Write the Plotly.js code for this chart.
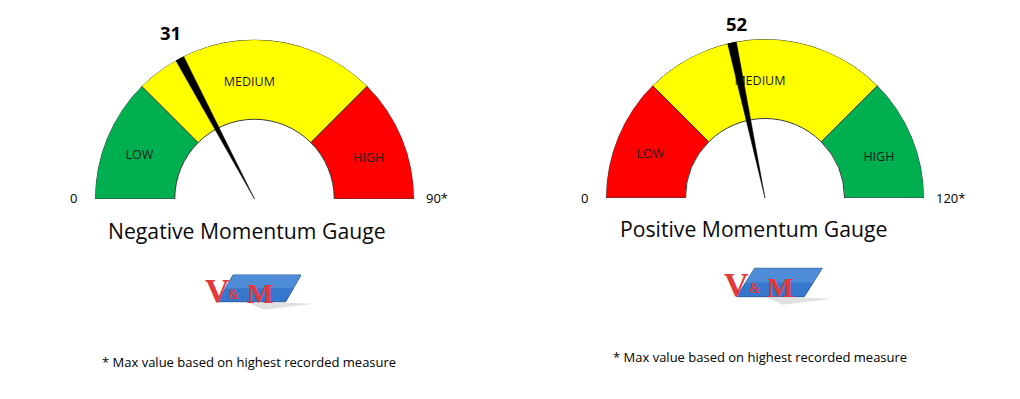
<!DOCTYPE html>
<html><head><meta charset="utf-8">
<script src="https://cdn.plot.ly/plotly-3.0.1.min.js"></script>
<style>html,body{margin:0;padding:0;background:#fff;} #chart{width:1020px;height:399px;}</style>
</head><body><div id="chart"></div>
<script>
// ---------- data ----------
const gaugeTitles = ["Negative Momentum Gauge", "Positive Momentum Gauge"];
const gaugeMax = [90, 120];
const gaugeValues = [31, 52];
const bandLabels = ["LOW", "MEDIUM", "HIGH"];
const negBandEdges = [0, 22.5, 67.5, 90];
const posBandEdges = [0, 30, 90, 120];
const negBandColors = ["#00B050", "#FFFF00", "#FF0000"];
const posBandColors = ["#FF0000", "#FFFF00", "#00B050"];
const minLabels = ["0", "0"];
const maxLabels = ["90*", "120*"];
const footnoteText = "* Max value based on highest recorded measure";
const logoLetters = ["V", "&", "M"];

// ---------- helpers ----------
const W = 1020, H = 399;
const px = x => x / W;
const py = y => 1 - y / H;
const FONT = "Open Sans, Noto Sans, sans-serif";

const bandEdges = [negBandEdges, posBandEdges];
const bandColors = [negBandColors, posBandColors];
const subplots = ["polar", "polar2"];

const traces = [];
for (let g = 0; g < 2; g++) {
  const max = gaugeMax[g];
  const toDeg = v => v / max * 180;
  const edges = bandEdges[g];
  const mids = [], widths = [];
  for (let i = 0; i < 3; i++) {
    mids.push(toDeg((edges[i] + edges[i + 1]) / 2));
    widths.push(toDeg(edges[i + 1] - edges[i]));
  }
  traces.push({
    type: "barpolar", subplot: subplots[g],
    r: [0.5, 0.5, 0.5], base: [0.5, 0.5, 0.5],
    theta: mids, width: widths,
    marker: {color: bandColors[g], line: {color: "#3a3a3a", width: 1}},
    hoverinfo: "skip", showlegend: false
  });
  traces.push({
    type: "scatterpolar", subplot: subplots[g], mode: "text",
    r: [0.77, 0.73, 0.76], theta: [mids[0] - 2, mids[1] - 2.5, mids[2] + 3], text: bandLabels,
    textfont: {family: FONT, size: 12.5, color: "#1a1a1a"},
    hoverinfo: "skip", showlegend: false
  });
  const t = toDeg(gaugeValues[g]);
  const d = 1.6;
  traces.push({
    type: "scatterpolar", subplot: subplots[g], mode: "lines",
    r: [0, 1, 1, 0], theta: [t, t - d, t + d, t],
    fill: "toself", fillcolor: "#000", line: {color: "#000", width: 0.5},
    hoverinfo: "skip", showlegend: false
  });
}

function polarCfg(dx, dy) {
  return {
    domain: {x: dx, y: dy}, sector: [0, 180], bgcolor: "rgba(0,0,0,0)", bargap: 0, hole: 0,
    radialaxis: {visible: false, range: [0, 1]},
    angularaxis: {visible: false, rotation: 180, direction: "clockwise"}
  };
}

const ann = [];
function txt(text, x, y, size, opts) {
  ann.push(Object.assign({
    text: text, x: px(x), y: py(y), xref: "paper", yref: "paper",
    showarrow: false, xanchor: "center", yanchor: "middle",
    font: {family: FONT, size: size, color: "#000"}
  }, opts || {}));
}
// value labels
txt("<b>" + gaugeValues[0] + "</b>", 170, 32, 18.5);
txt("<b>" + gaugeValues[1] + "</b>", 736, 23, 18.5);
// min / max
txt(minLabels[0], 79, 198, 13, {xanchor: "right"});
txt(maxLabels[0], 424, 198, 13, {xanchor: "left"});
txt(minLabels[1], 590, 198, 13, {xanchor: "right"});
txt(maxLabels[1], 934, 198, 13, {xanchor: "left"});
// titles
txt(gaugeTitles[0], 246.5, 230, 21.2, {font: {family: FONT, size: 21.2, color: "#0a0a0a"}});
txt(gaugeTitles[1], 753.5, 228, 21.2, {font: {family: FONT, size: 21.2, color: "#0a0a0a"}});
// footnotes
txt(footnoteText, 100, 362, 13, {xanchor: "left"});
txt(footnoteText, 611, 357, 13, {xanchor: "left"});

// logos
const shapes = [];
function poly(pts, fill, line, opacity) {
  let p = "M" + pts.map(q => px(q[0]) + "," + py(q[1])).join(" L") + " Z";
  shapes.push({type: "path", xref: "paper", yref: "paper", path: p,
    fillcolor: fill, line: {color: line, width: line === "rgba(0,0,0,0)" ? 0 : 1}, opacity: opacity || 1, layer: "below"});
}
function logo(ox, oy, h, slant, wBot) {
  // soft shadow
  poly([[ox + 30, oy + h + 1], [ox + wBot, oy + h + 1], [ox + wBot + 28, oy + h + 2], [ox + 46, oy + h + 8]], "#a8a8a8", "rgba(0,0,0,0)", 0.35);
  // parallelogram
  poly([[ox, oy + h], [ox + wBot, oy + h], [ox + wBot + slant, oy], [ox + slant, oy]], "#3577cc", "#2a5c9c");
  // lighter top half
  poly([[ox + slant / 2, oy + h / 2], [ox + wBot + slant / 2, oy + h / 2], [ox + wBot + slant, oy], [ox + slant, oy]], "#6aa2e4", "rgba(0,0,0,0)", 0.5);
}
logo(217.7, 275, 26.7, 15.3, 68);
logo(736.7, 268.3, 28.4, 18, 67.5);
const LFONT = "Liberation Serif, DejaVu Serif, serif";
const red = "#E23A3A";
function logoText(x, y, s, ch) {
  txt("<b>" + ch + "</b>", x, y, s, {font: {family: LFONT, size: s, color: red}});
}
logoText(217.5, 290.5, 34, logoLetters[0]);
logoText(233.5, 294, 14, logoLetters[1]);
logoText(260, 293, 28, logoLetters[2]);
logoText(736, 284, 34, logoLetters[0]);
logoText(755, 288.5, 14, logoLetters[1]);
logoText(780, 287, 28, logoLetters[2]);

const layout = {
  width: W, height: H, margin: {l: 0, r: 0, t: 0, b: 0},
  paper_bgcolor: "#fff", plot_bgcolor: "#fff", showlegend: false,
  polar: polarCfg([px(95), px(414)], [py(199), py(39.5)]),
  polar2: polarCfg([px(606), px(924)], [py(198), py(39)]),
  annotations: ann, shapes: shapes
};
Plotly.newPlot("chart", traces, layout, {staticPlot: true, displayModeBar: false});
</script></body></html>
